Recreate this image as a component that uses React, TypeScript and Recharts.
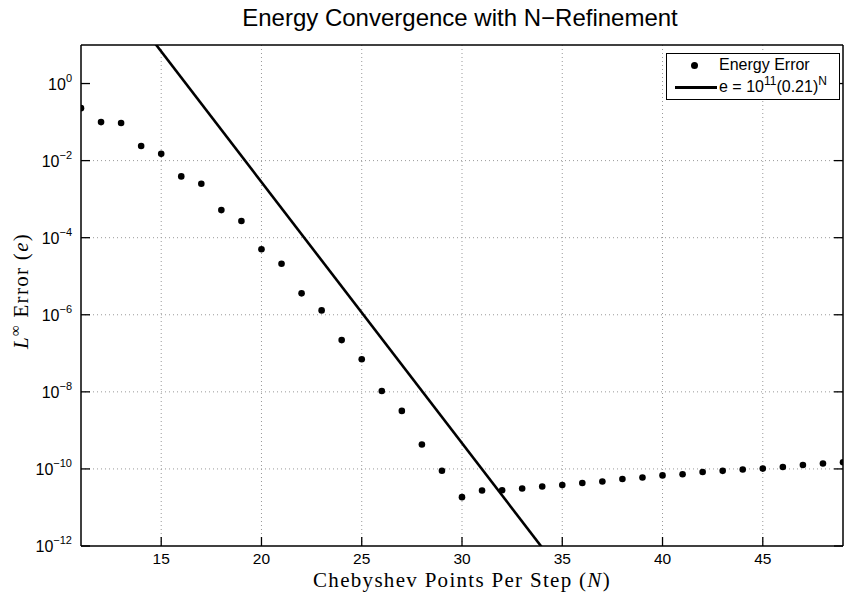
import React from 'react';
import { ComposedChart, Scatter, Line, XAxis, YAxis, CartesianGrid, Legend } from 'recharts';

// energy error, one value per N
const pointsN = [11, 12, 13, 14, 15, 16, 17, 18, 19, 20, 21, 22, 23, 24, 25, 26, 27, 28, 29, 30,
  31, 32, 33, 34, 35, 36, 37, 38, 39, 40, 41, 42, 43, 44, 45, 46, 47, 48, 49];
const energyError = [0.23, 0.1, 0.095, 0.024, 0.015, 0.0039, 0.0025, 5.2e-4, 2.7e-4, 5e-5,
  2.1e-5, 3.6e-6, 1.3e-6, 2.2e-7, 7e-8, 1.05e-8, 3.2e-9, 4.3e-10, 9e-11, 1.85e-11,
  2.75e-11, 2.8e-11, 3.1e-11, 3.5e-11, 3.8e-11, 4.3e-11, 4.7e-11, 5.5e-11, 6e-11, 6.8e-11,
  7.3e-11, 8.3e-11, 8.9e-11, 9.7e-11, 1.02e-10, 1.12e-10, 1.26e-10, 1.38e-10, 1.49e-10];

// fit line e = 1e11 * 0.21^N, endpoints just outside the axes
const fitN = [14, 35];
const fitE = [32.4, 1.9e-13];

const xTicks = [15, 20, 25, 30, 35, 40, 45];
const yTicks = [1e-12, 1e-10, 1e-8, 1e-6, 1e-4, 1e-2, 1];
const yExp = ['\u221212', '\u221210', '\u22128', '\u22126', '\u22124', '\u22122', '0'];

const errorRows = pointsN.map((n, i) => ({ N: n, e: energyError[i] }));
const fitRows = fitN.map((n, i) => ({ N: n, fit: fitE[i] }));

const sans = '"Liberation Sans", Arial, Helvetica, sans-serif';
const serif = '"Liberation Serif", "DejaVu Serif", serif';

const BottomTick = (props: any) => {
  const { x, y, payload } = props;
  return (
    <g>
      <path d={`M${x},${y}v-9`} stroke="#000" strokeWidth={1.3} fill="none" />
      <text x={x} y={y + 18} textAnchor="middle" fontFamily={sans} fontSize={15.5} fill="#000">{payload.value}</text>
    </g>
  );
};

const TopTick = (props: any) => {
  const { x, y } = props;
  return <path d={`M${x},${y}v9`} stroke="#000" strokeWidth={1.3} fill="none" />;
};

const LeftTick = (props: any) => {
  const { x, y, payload } = props;
  const idx = yTicks.indexOf(payload.value);
  return (
    <g>
      <path d={`M${x},${y}h9`} stroke="#000" strokeWidth={1.3} fill="none" />
      <text x={x - 9} y={y + 6} textAnchor="end" fontFamily={sans} fontSize={16} fill="#000">
        10<tspan dy={-8} fontSize={11}>{yExp[idx]}</tspan>
      </text>
    </g>
  );
};

const RightTick = (props: any) => {
  const { x, y } = props;
  return <path d={`M${x},${y}h-9`} stroke="#000" strokeWidth={1.3} fill="none" />;
};

const LegendBox = () => (
  <div style={{
    width: 172, height: 45, border: '1px solid #000', background: '#fff',
    fontFamily: sans, fontSize: 16, color: '#000', position: 'relative',
  }}>
    <div style={{ position: 'absolute', left: 24, top: 8, width: 7, height: 7, borderRadius: '50%', background: '#000' }} />
    <div style={{ position: 'absolute', left: 52, top: 1, lineHeight: '20px' }}>Energy Error</div>
    <div style={{ position: 'absolute', left: 8, top: 32, width: 42, height: 3, background: '#000' }} />
    <div style={{ position: 'absolute', left: 52, top: 23, lineHeight: '20px', whiteSpace: 'nowrap' }}>
      e = 10<span style={{ fontSize: 12, position: 'relative', top: -7 }}>11</span>(0.21)<span style={{ fontSize: 12, position: 'relative', top: -7 }}>N</span>
    </div>
  </div>
);

export default function App() {
  return (
    <div style={{ position: 'absolute', left: 0, top: 0, width: 847, height: 596, background: '#fff' }}>
      <div style={{
        position: 'absolute', left: 0, width: 920, top: 4, textAlign: 'center',
        fontFamily: sans, fontSize: 24, lineHeight: '28px', color: '#000',
      }}>
        Energy Convergence with N{'\u2212'}Refinement
      </div>
      <ComposedChart width={847} height={596} margin={{ top: 44, right: 3, bottom: 0, left: 0 }}>
        <CartesianGrid
          horizontalValues={yTicks.slice(1, 6)}
          verticalValues={xTicks}
          stroke="#999"
          strokeDasharray="1 3"
          strokeWidth={1}
        />
        <XAxis
          type="number"
          dataKey="N"
          domain={[11, 49]}
          ticks={xTicks}
          allowDataOverflow
          height={50}
          tickSize={0}
          tickMargin={0}
          tickLine={false}
          tick={<BottomTick />}
          axisLine={{ stroke: '#000', strokeWidth: 1.5 }}
        />
        <XAxis
          xAxisId="top"
          orientation="top"
          type="number"
          domain={[11, 49]}
          ticks={xTicks}
          allowDataOverflow
          height={1}
          tickSize={0}
          tickMargin={0}
          tickLine={false}
          tick={<TopTick />}
          axisLine={{ stroke: '#000', strokeWidth: 1.5 }}
        />
        <YAxis
          scale="log"
          type="number"
          domain={[1e-12, 10]}
          ticks={yTicks}
          allowDataOverflow
          width={81}
          tickSize={0}
          tickMargin={0}
          tickLine={false}
          tick={<LeftTick />}
          axisLine={{ stroke: '#000', strokeWidth: 1.5 }}
        />
        <YAxis
          yAxisId="right"
          orientation="right"
          scale="log"
          type="number"
          domain={[1e-12, 10]}
          ticks={yTicks}
          allowDataOverflow
          width={1}
          tickSize={0}
          tickMargin={0}
          tickLine={false}
          tick={<RightTick />}
          axisLine={{ stroke: '#000', strokeWidth: 1.5 }}
        />
        <Scatter
          data={errorRows}
          dataKey="e"
          fill="#000"
          shape={(p: any) => <circle cx={p.cx} cy={p.cy} r={3.3} fill="#000" />}
          isAnimationActive={false}
        />
        <Line
          data={fitRows}
          dataKey="fit"
          stroke="#000"
          strokeWidth={2.6}
          dot={false}
          activeDot={false}
          isAnimationActive={false}
        />
        <Legend
          layout="horizontal"
          verticalAlign="middle"
          align="center"
          content={<LegendBox />}
          wrapperStyle={{ position: 'absolute', left: 666, top: 53, width: 174, height: 47 }}
        />
      </ComposedChart>
      <div style={{
        position: 'absolute', left: 0, width: 924, top: 569, textAlign: 'center',
        fontFamily: serif, fontSize: 21, lineHeight: '22px', color: '#000', letterSpacing: 1.3,
      }}>
        Chebyshev Points Per Step (<i>N</i>)
      </div>
      <div style={{
        position: 'absolute', left: 22, top: 291, width: 0, height: 0,
      }}>
        <div style={{
          position: 'absolute', left: 0, top: 0, transform: 'translate(-50%, -50%) rotate(-90deg)',
          whiteSpace: 'nowrap', fontFamily: serif, fontSize: 21, lineHeight: '24px', color: '#000', letterSpacing: 1.3,
        }}>
          <i>L</i><span style={{ fontSize: 15, position: 'relative', top: -8 }}>{'\u221e'}</span> Error (<i>e</i>)
        </div>
      </div>
    </div>
  );
}
